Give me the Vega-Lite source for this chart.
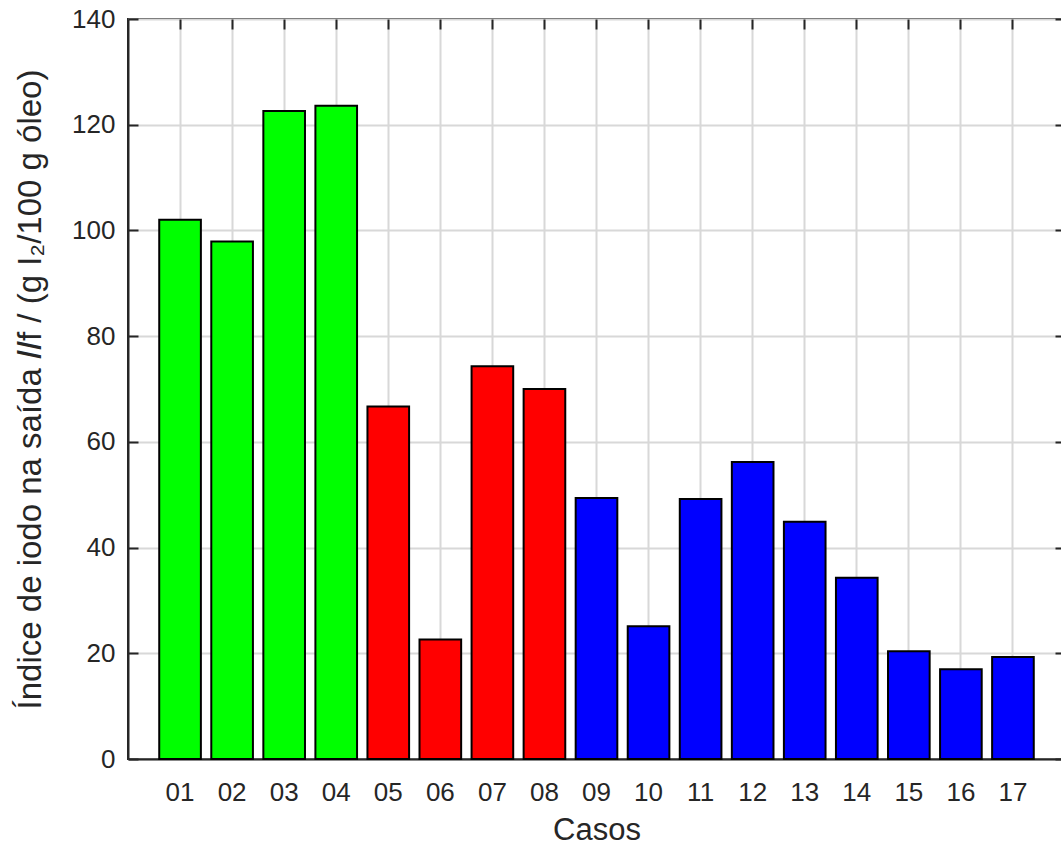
{
  "$schema": "https://vega.github.io/schema/vega-lite/v6.json",
  "width": 937,
  "height": 740,
  "autosize": {"type": "none"},
  "padding": {"left": 128, "top": 19, "right": 0, "bottom": 88},
  "background": "white",
  "config": {
    "font": "Liberation Sans",
    "view": {"stroke": "#262626", "strokeWidth": 2},
    "axis": {
      "labelFont": "Liberation Sans",
      "titleFont": "Liberation Sans",
      "labelColor": "#262626",
      "titleColor": "#262626",
      "labelFontSize": 26,
      "titleFontSize": 31,
      "titleFontWeight": "normal",
      "tickColor": "#262626",
      "tickWidth": 2,
      "tickSize": -10,
      "domainColor": "#262626",
      "domainWidth": 2,
      "gridColor": "#d8d8d8",
      "gridWidth": 2,
      "gridOpacity": 1
    }
  },
  "data": {
    "values": [
      {"caso": "01", "grupo": "A", "indice": 102.0},
      {"caso": "02", "grupo": "A", "indice": 97.9},
      {"caso": "03", "grupo": "A", "indice": 122.6},
      {"caso": "04", "grupo": "A", "indice": 123.6},
      {"caso": "05", "grupo": "B", "indice": 66.7},
      {"caso": "06", "grupo": "B", "indice": 22.6},
      {"caso": "07", "grupo": "B", "indice": 74.3},
      {"caso": "08", "grupo": "B", "indice": 70.0},
      {"caso": "09", "grupo": "C", "indice": 49.4},
      {"caso": "10", "grupo": "C", "indice": 25.1},
      {"caso": "11", "grupo": "C", "indice": 49.2},
      {"caso": "12", "grupo": "C", "indice": 56.2},
      {"caso": "13", "grupo": "C", "indice": 44.9},
      {"caso": "14", "grupo": "C", "indice": 34.3},
      {"caso": "15", "grupo": "C", "indice": 20.4},
      {"caso": "16", "grupo": "C", "indice": 17.0},
      {"caso": "17", "grupo": "C", "indice": 19.3}
    ]
  },
  "layer": [
    {
      "mark": {"type": "bar", "stroke": "black", "strokeWidth": 2},
      "encoding": {
        "x": {
          "field": "caso",
          "type": "ordinal",
          "sort": null,
          "scale": {"paddingInner": 0.2, "paddingOuter": 0.6},
          "axis": {
            "orient": "bottom",
            "title": "Casos",
            "labelAngle": 0,
            "labelPadding": 30,
            "titlePadding": 10,
            "bandPosition": 0.5,
            "grid": true,
            "domain": true
          }
        },
        "y": {
          "field": "indice",
          "type": "quantitative",
          "scale": {"domain": [0, 140], "nice": false},
          "axis": {
            "orient": "left",
            "values": [0, 20, 40, 60, 80, 100, 120, 140],
            "title": "Índice de iodo na saída 𝐼𝐼f / (g I₂/100 g óleo)",
            "titleFontSize": 33,
            "labelPadding": 23,
            "titlePadding": 24,
            "grid": true,
            "domain": true
          }
        },
        "color": {
          "field": "grupo",
          "type": "nominal",
          "scale": {"domain": ["A", "B", "C"], "range": ["#00ff00", "#ff0000", "#0000ff"]},
          "legend": null
        }
      }
    },
    {
      "mark": {"type": "bar", "opacity": 0},
      "encoding": {
        "x": {
          "field": "caso",
          "type": "ordinal",
          "sort": null,
          "axis": {
            "orient": "top",
            "title": null,
            "labels": false,
            "bandPosition": 0.5,
            "grid": false,
            "domain": false
          }
        },
        "y": {
          "field": "indice",
          "type": "quantitative",
          "axis": {
            "orient": "right",
            "values": [0, 20, 40, 60, 80, 100, 120, 140],
            "title": null,
            "labels": false,
            "grid": false,
            "domain": false
          }
        }
      }
    }
  ],
  "resolve": {"axis": {"x": "independent", "y": "independent"}}
}
